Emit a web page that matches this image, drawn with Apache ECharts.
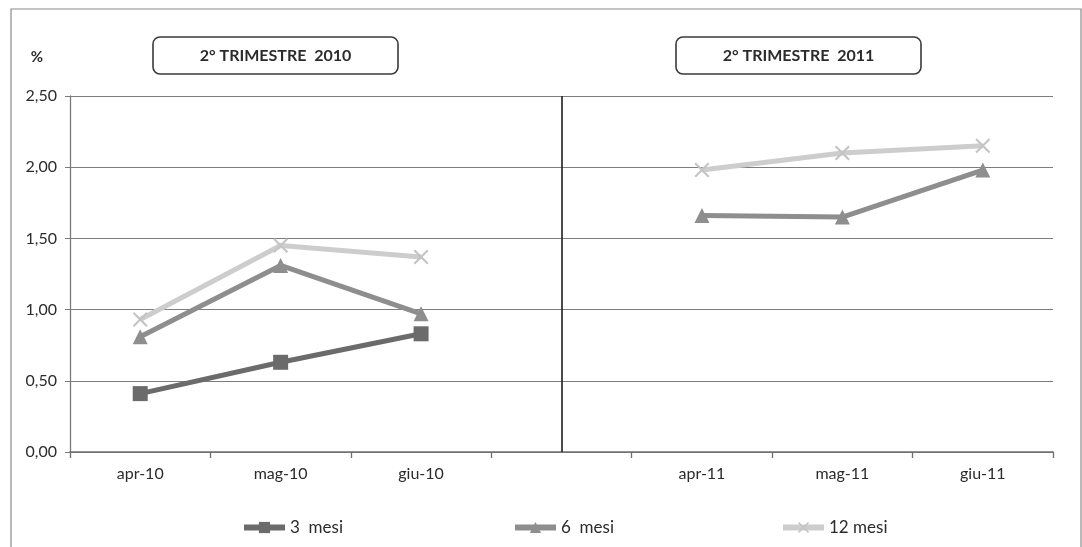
<!DOCTYPE html>
<html>
<head>
<meta charset="utf-8">
<script src="https://cdn.jsdelivr.net/npm/echarts@6/dist/echarts.min.js"></script>
<style>
  html, body { margin: 0; padding: 0; background: #fff; }
  #chart { width: 1082px; height: 547px; }
</style>
</head>
<body>
<div id="chart"></div>
<script>
// ---- data ----
var categories = ['apr-10', 'mag-10', 'giu-10', '', 'apr-11', 'mag-11', 'giu-11'];
var seriesNames = ['3  mesi', '6  mesi', '12 mesi'];
var mesi3 = [0.41, 0.63, 0.83, null, null, null, null];
var mesi6 = [0.81, 1.31, 0.97, null, 1.66, 1.65, 1.98];
var mesi12 = [0.93, 1.45, 1.37, null, 1.98, 2.10, 2.15];
var panelTitles = ['2° TRIMESTRE  2010', '2° TRIMESTRE  2011'];
var dividerCategory = 3;
var yMin = 0, yMax = 2.5, yStep = 0.5;

var FONT = 'Lato, "Open Sans", "DejaVu Sans", sans-serif';
var TXT = '#2b2b2b';
var xMark = 'path://M1,0 L5,4 L9,0 L10,1 L6,5 L10,9 L9,10 L5,6 L1,10 L0,9 L4,5 L0,1 Z';

var chart = echarts.init(document.getElementById('chart'), null, { renderer: 'canvas' });

function legendAt(name, left) {
  return {
    data: [name],
    left: left,
    top: 519,
    itemWidth: 41,
    itemHeight: 14,
    lineStyle: { width: 6 },
    textStyle: { fontFamily: FONT, fontSize: 17, color: TXT },
    itemGap: 0,
    padding: 0,
    selectedMode: false
  };
}

function titleRect(x) {
  return { type: 'rect', x: x, y: 37, shape: { x: 0, y: 0, width: 245, height: 37, r: 7 },
           style: { fill: '#fff', stroke: '#3a3a3a', lineWidth: 1.6 }, z: 10 };
}
function titleText(text, x) {
  return { type: 'text', x: x + 122.5, y: 56, z: 11,
           style: { text: text, fontFamily: FONT, fontWeight: 'bold', fontSize: 16,
                    fill: TXT, align: 'center', verticalAlign: 'middle' } };
}

var option = {
  backgroundColor: '#fff',
  animation: false,
  grid: { left: 70, right: 29, top: 96, bottom: 95 },
  legend: [
    legendAt(seriesNames[0], 241),
    legendAt(seriesNames[1], 512),
    legendAt(seriesNames[2], 780)
  ],
  xAxis: {
    type: 'category',
    data: categories,
    boundaryGap: true,
    axisLine: { lineStyle: { color: '#6f6f6f', width: 1.5 } },
    axisTick: { show: true, length: 6, interval: 0, lineStyle: { color: '#6f6f6f', width: 1.3 } },
    axisLabel: { interval: 0, margin: 14, fontFamily: FONT, fontSize: 16, color: TXT },
    splitLine: { show: false }
  },
  yAxis: {
    type: 'value',
    min: yMin, max: yMax, interval: yStep,
    axisLine: { show: true, lineStyle: { color: '#7a7a7a', width: 1.3 } },
    axisTick: { show: true, length: 5, lineStyle: { color: '#7a7a7a' } },
    axisLabel: {
      margin: 13, fontFamily: FONT, fontSize: 16, color: TXT,
      formatter: function (v) { return v.toFixed(2).replace('.', ','); }
    },
    splitLine: { show: true, lineStyle: { color: '#7d7d7d', width: 1 } }
  },
  series: [
    {
      name: seriesNames[0], type: 'line', data: mesi3,
      symbol: 'rect', symbolSize: 15,
      lineStyle: { color: '#6b6b6b', width: 5 },
      itemStyle: { color: '#6b6b6b' },
      z: 3,
      markLine: {
        silent: true, symbol: 'none', label: { show: false },
        lineStyle: { color: '#1e1e1e', width: 1.6, type: 'solid' },
        data: [{ xAxis: dividerCategory }]
      }
    },
    {
      name: seriesNames[1], type: 'line', data: mesi6,
      symbol: 'triangle', symbolSize: 15,
      lineStyle: { color: '#8e8e8e', width: 5 },
      itemStyle: { color: '#8e8e8e' },
      z: 4
    },
    {
      name: seriesNames[2], type: 'line', data: mesi12,
      symbol: xMark, symbolSize: 15,
      lineStyle: { color: '#cdcdcd', width: 5 },
      itemStyle: { color: '#c4c4c4' },
      z: 5
    }
  ],
  graphic: [
    { type: 'rect', x: 11, y: 9, shape: { x: 0, y: 0, width: 1070, height: 560 },
      style: { fill: 'none', stroke: '#8a8a8a', lineWidth: 1.2 }, z: -10 },
    { type: 'text', x: 37, y: 57,
      style: { text: '%', fontFamily: FONT, fontWeight: 'bold', fontSize: 15, fill: TXT,
               align: 'center', verticalAlign: 'middle' } },
    titleRect(153), titleText(panelTitles[0], 153),
    titleRect(676), titleText(panelTitles[1], 676)
  ]
};

chart.setOption(option);
</script>
</body>
</html>
